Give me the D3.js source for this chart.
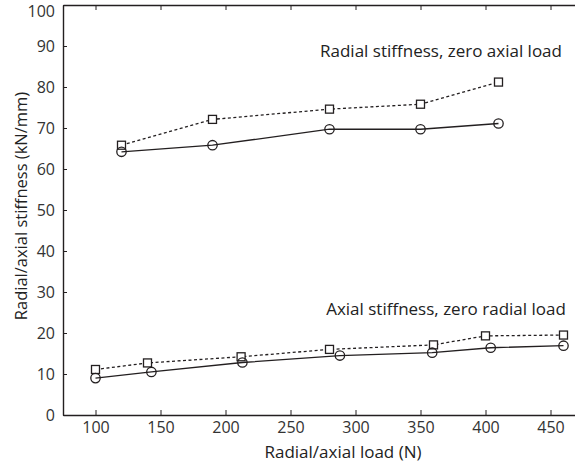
<!DOCTYPE html>
<html><head><meta charset="utf-8">
<script src="https://cdn.jsdelivr.net/npm/d3@7"></script>
<style>
body{margin:0;background:#fff;}
svg{display:block;font-family:"Open Sans",sans-serif;}
</style></head>
<body><svg id="c" width="575" height="461"></svg>
<script>
// Radial stiffness, zero axial load
const radialSqX = [120, 190, 280, 350, 410];
const radialSqY = [65.8, 72.1, 74.6, 75.8, 81.2];
const radialCiX = [120, 190, 280, 350, 410];
const radialCiY = [64.2, 65.8, 69.7, 69.7, 71.1];
// Axial stiffness, zero radial load
const axialSqX = [100, 140, 212, 280, 360, 400, 460];
const axialSqY = [11.1, 12.7, 14.2, 16.0, 17.1, 19.3, 19.5];
const axialCiX = [100, 143, 213, 288, 359, 404, 460];
const axialCiY = [9.0, 10.5, 12.8, 14.5, 15.2, 16.4, 16.9];
const xTicks = [100, 150, 200, 250, 300, 350, 400, 450];
const yTicks = [0, 10, 20, 30, 40, 50, 60, 70, 80, 90, 100];

const svg = d3.select("#c");
const x = d3.scaleLinear().domain([75, 470]).range([63, 576.5]);
const y = d3.scaleLinear().domain([0, 100]).range([415, 5]);
const ink = "#231f20";

// axes
const gb = svg.append("g").attr("transform", "translate(0,415)")
  .call(d3.axisBottom(x).tickValues(xTicks).tickSizeInner(-5).tickSizeOuter(0).tickPadding(7));
const gt = svg.append("g").attr("transform", "translate(0,5)")
  .call(d3.axisTop(x).tickValues(xTicks).tickSizeInner(-5).tickSizeOuter(0).tickFormat(""));
const gl = svg.append("g").attr("transform", "translate(63,0)")
  .call(d3.axisLeft(y).tickValues(yTicks).tickSizeInner(-4).tickSizeOuter(0).tickPadding(8));
[gb, gt, gl].forEach(g => {
  g.select(".domain").attr("stroke", ink).attr("stroke-width", 1.4);
  g.selectAll(".tick line").attr("stroke", ink).attr("stroke-width", 1);
  g.selectAll(".tick text").attr("fill", "#333").attr("font-size", 16).attr("font-family", "Open Sans");
});
gl.selectAll(".tick text").filter(d => d === 100).attr("dy", "0.7em");

function series(xs, ys, dashed, marker) {
  const pts = xs.map((v, i) => [v, ys[i]]);
  svg.append("path").datum(pts)
    .attr("fill", "none").attr("stroke", ink).attr("stroke-width", 1.3)
    .attr("stroke-dasharray", dashed ? "3,2.5" : null)
    .attr("d", d3.line().x(d => x(d[0])).y(d => y(d[1])));
  if (marker === "sq") {
    svg.selectAll(null).data(pts).enter().append("rect")
      .attr("x", d => x(d[0]) - 4).attr("y", d => y(d[1]) - 4)
      .attr("width", 8).attr("height", 8)
      .attr("fill", "#fff").attr("stroke", ink).attr("stroke-width", 1.3);
  } else {
    svg.selectAll(null).data(pts).enter().append("circle")
      .attr("cx", d => x(d[0])).attr("cy", d => y(d[1])).attr("r", 4.7)
      .attr("fill", "none").attr("stroke", ink).attr("stroke-width", 1.3);
  }
}
series(radialSqX, radialSqY, true, "sq");
series(radialCiX, radialCiY, false, "ci");
series(axialSqX, axialSqY, true, "sq");
series(axialCiX, axialCiY, false, "ci");

// labels
svg.append("text").attr("x", 343).attr("y", 457.5).attr("text-anchor", "middle")
  .attr("font-size", 17).attr("fill", "#222").text("Radial/axial load (N)");
svg.append("text").attr("transform", "translate(27,206) rotate(-90)").attr("text-anchor", "middle")
  .attr("font-size", 16.5).attr("fill", "#222").text("Radial/axial stiffness (kN/mm)");
svg.append("text").attr("x", 441).attr("y", 57).attr("text-anchor", "middle")
  .attr("font-size", 17).attr("fill", "#222").text("Radial stiffness, zero axial load");
svg.append("text").attr("x", 446).attr("y", 315).attr("text-anchor", "middle")
  .attr("font-size", 17).attr("fill", "#222").text("Axial stiffness, zero radial load");
</script></body></html>
